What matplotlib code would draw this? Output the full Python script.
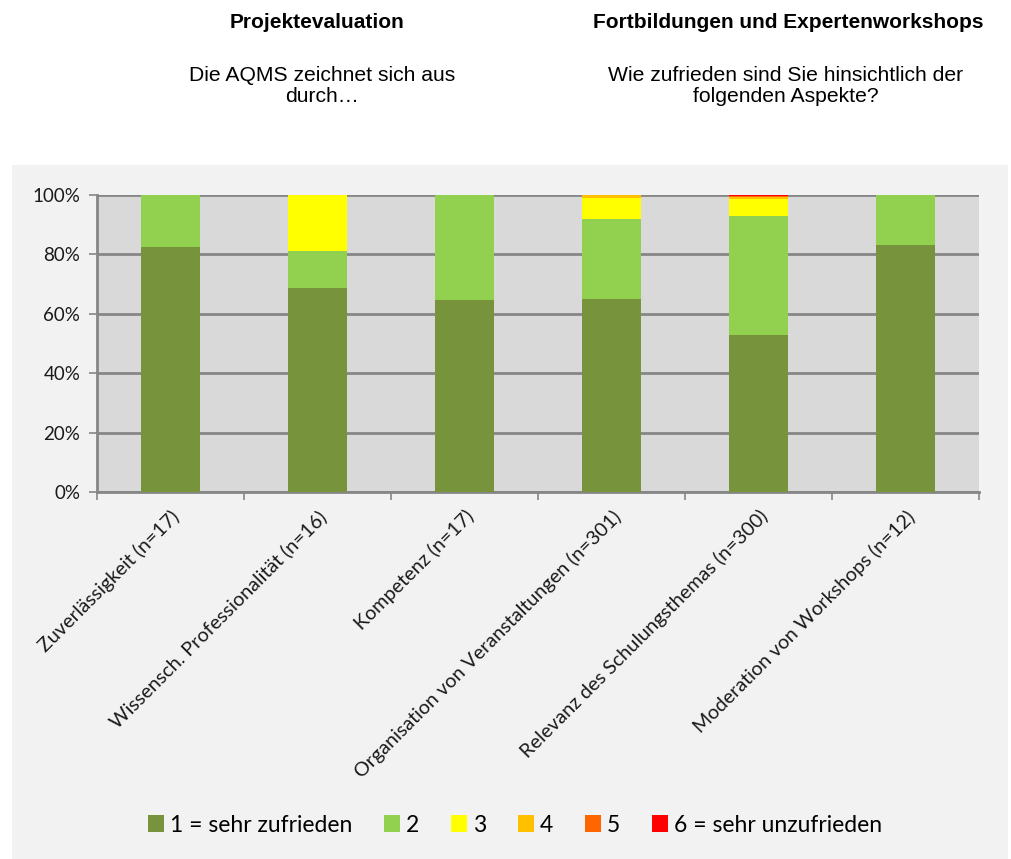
import numpy as np
import matplotlib.pyplot as plt
from matplotlib.patches import Rectangle, Patch
from matplotlib.ticker import FixedLocator, PercentFormatter

# Categories and answer shares (fractions of respondents)
categories = [
    "Zuverlässigkeit (n=17)",
    "Wissensch. Professionalität (n=16)",
    "Kompetenz (n=17)",
    "Organisation von Veranstaltungen (n=301)",
    "Relevanz des Schulungsthemas (n=300)",
    "Moderation von Workshops (n=12)",
]
grade_1 = [0.824, 0.6875, 0.647, 0.651, 0.527, 0.833]
grade_2 = [0.176, 0.125, 0.353, 0.269, 0.403, 0.167]
grade_3 = [0.0, 0.1875, 0.0, 0.070, 0.057, 0.0]
grade_4 = [0.0, 0.0, 0.0, 0.010, 0.007, 0.0]
grade_5 = [0.0, 0.0, 0.0, 0.0, 0.003, 0.0]
grade_6 = [0.0, 0.0, 0.0, 0.0, 0.003, 0.0]
series_labels = ["1 = sehr zufrieden", "2", "3", "4", "5", "6 = sehr unzufrieden"]
series_colors = ["#77933C", "#92D050", "#FFFF00", "#FFC000", "#FF6600", "#FF0000"]
y_ticks = [0, 0.2, 0.4, 0.6, 0.8, 1.0]

LABEL_FONT = ["Lato", "DejaVu Sans"]
TITLE_FONT = ["Liberation Sans", "DejaVu Sans"]
GRID_COLOR = "#868686"

fig = plt.figure(figsize=(10.12, 8.59), dpi=100)
fig.patch.set_facecolor("white")

# light grey chart area (behind the axes)
fig.patches.append(Rectangle((12 / 1012, 0), (1008 - 12) / 1012, 1 - 165 / 859,
                             transform=fig.transFigure, facecolor="#F2F2F2",
                             edgecolor="none", zorder=-10))

ax = fig.add_axes([97 / 1012, 1 - 492 / 859, (979 - 97) / 1012, (492 - 195) / 859])
ax.set_facecolor("#D9D9D9")

x = np.arange(len(categories))
bottom = np.zeros(len(categories))
for vals, lab, col in zip([grade_1, grade_2, grade_3, grade_4, grade_5, grade_6],
                          series_labels, series_colors):
    ax.bar(x, vals, width=0.4, bottom=bottom, color=col, label=lab, zorder=3)
    bottom += np.array(vals)

ax.set_xlim(-0.5, len(categories) - 0.5)
ax.set_ylim(0, 1)

# y axis
ax.yaxis.set_major_locator(FixedLocator(y_ticks))
ax.yaxis.set_major_formatter(PercentFormatter(1.0, decimals=0))
ax.grid(axis="y", color=GRID_COLOR, linewidth=2, zorder=1)
ax.tick_params(axis="y", length=6, width=1.2, color=GRID_COLOR, pad=6)
for t in ax.get_yticklabels():
    t.set_fontfamily(LABEL_FONT)
    t.set_fontsize(13.5)
    t.set_color("#1a1a1a")

# x axis: ticks on category boundaries, labels at centers
ax.set_xticks(np.arange(len(categories) + 1) - 0.5)
ax.set_xticklabels([])
ax.set_xticks(x, minor=True)
ax.set_xticklabels(categories, minor=True, rotation=45, ha="right",
                   rotation_mode="anchor", fontfamily=LABEL_FONT, fontsize=14.2,
                   color="#1a1a1a")
ax.tick_params(axis="x", which="major", length=6, width=1.2, color=GRID_COLOR)
ax.tick_params(axis="x", which="minor", length=0, pad=11)

for side in ["top", "right"]:
    ax.spines[side].set_visible(False)
ax.spines["left"].set_color(GRID_COLOR)
ax.spines["left"].set_linewidth(2)
ax.spines["bottom"].set_color(GRID_COLOR)
ax.spines["bottom"].set_linewidth(2)

# legend
handles = [Patch(facecolor=c, edgecolor="none") for c in series_colors]
fig.legend(handles, series_labels, loc="center", bbox_to_anchor=(515 / 1012, 1 - 825 / 859),
           ncol=6, frameon=False, prop={"family": LABEL_FONT, "size": 16.5},
           handlelength=0.7, handleheight=0.7, handletextpad=0.25, columnspacing=1.4)

# titles above the chart
fig.text(317 / 1012, 1 - 22 / 859, "Projektevaluation", ha="center", va="center",
         fontfamily=TITLE_FONT, fontweight="bold", fontsize=15)
fig.text(322 / 1012, 1 - 86 / 859, "Die AQMS zeichnet sich aus\ndurch…", ha="center",
         va="center", fontfamily=TITLE_FONT, fontsize=15.2, linespacing=1.1)
fig.text(788 / 1012, 1 - 22 / 859, "Fortbildungen und Expertenworkshops", ha="center",
         va="center", fontfamily=TITLE_FONT, fontweight="bold", fontsize=15)
fig.text(786 / 1012, 1 - 86 / 859, "Wie zufrieden sind Sie hinsichtlich der\nfolgenden Aspekte?",
         ha="center", va="center", fontfamily=TITLE_FONT, fontsize=15.2, linespacing=1.1)

fig.savefig("out.png", dpi=100, facecolor=fig.get_facecolor())
